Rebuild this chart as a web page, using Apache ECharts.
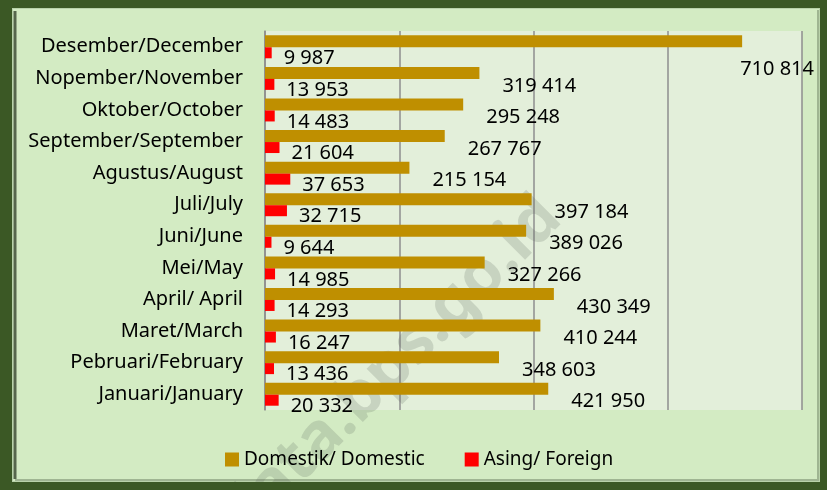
<!DOCTYPE html>
<html>
<head>
<meta charset="utf-8">
<script src="https://cdn.jsdelivr.net/npm/echarts@6/dist/echarts.min.js"></script>
<style>
  html, body { margin: 0; padding: 0; }
  #main { width: 827px; height: 490px; }
</style>
</head>
<body>
<div id="main"></div>
<script>
// months, top to bottom as in the picture
const months = [
  'Desember/December', 'Nopember/November', 'Oktober/October', 'September/September',
  'Agustus/August', 'Juli/July', 'Juni/June', 'Mei/May', 'April/ April',
  'Maret/March', 'Pebruari/February', 'Januari/January'
];
const domestic = [710814, 319414, 295248, 267767, 215154, 397184, 389026, 327266, 430349, 410244, 348603, 421950];
const foreign = [9987, 13953, 14483, 21604, 37653, 32715, 9644, 14985, 14293, 16247, 13436, 20332];
const seriesNames = ['Domestik/ Domestic', 'Asing/ Foreign'];

const FONT = 'Noto Sans';
const DARK = '#3b5825';

function fmt(v) {
  return String(v).replace(/\B(?=(\d{3})+(?!\d))/g, ' ');
}

const chart = echarts.init(document.getElementById('main'));
const option = {
  backgroundColor: '#d3ebc3',
  animation: false,
  textStyle: { fontFamily: FONT },
  graphic: [
    // inner panel edges
    {
      type: 'rect', z: -10,
      shape: { x: 12, y: 8, width: 808, height: 474 },
      style: { fill: '#d3ebc3', stroke: '#b9d2aa', lineWidth: 2 }
    },
    {
      type: 'line', z: -9,
      shape: { x1: 15, y1: 11, x2: 15, y2: 479 },
      style: { stroke: '#56664c', lineWidth: 3 }
    },
    {
      type: 'line', z: -9,
      shape: { x1: 15, y1: 480, x2: 819, y2: 480 },
      style: { stroke: '#9fb592', lineWidth: 2 }
    },
    {
      type: 'line', z: -9,
      shape: { x1: 818, y1: 10, x2: 818, y2: 481 },
      style: { stroke: '#9fb592', lineWidth: 2 }
    },
    // watermark
    {
      type: 'text', z: 1,
      x: 551, y: 208,
      rotation: 45 * Math.PI / 180,
      silent: true,
      style: {
        text: 'data.bps.go.id',
        font: 'bold 64px "' + FONT + '"',
        fill: 'rgba(90, 100, 90, 0.2)',
        textAlign: 'right',
        textVerticalAlign: 'middle'
      }
    },
    // dark outer frame, drawn on top
    { type: 'rect', z: 200, silent: true, shape: { x: 0, y: 0, width: 827, height: 8 }, style: { fill: DARK } },
    { type: 'rect', z: 200, silent: true, shape: { x: 0, y: 482, width: 827, height: 8 }, style: { fill: DARK } },
    { type: 'rect', z: 200, silent: true, shape: { x: 0, y: 0, width: 12, height: 490 }, style: { fill: DARK } },
    { type: 'rect', z: 200, silent: true, shape: { x: 820, y: 0, width: 7, height: 490 }, style: { fill: DARK } }
  ],
  legend: {
    left: 220,
    top: 445,
    icon: 'rect',
    itemWidth: 14,
    itemHeight: 14,
    itemGap: 40,
    data: seriesNames,
    textStyle: { fontSize: 19, color: '#000', fontFamily: FONT }
  },
  grid: {
    left: 265,
    right: 25,
    top: 31,
    bottom: 80,
    show: true,
    backgroundColor: '#e3efda',
    borderWidth: 0,
    containLabel: false
  },
  xAxis: {
    type: 'value',
    min: 0,
    max: 800000,
    interval: 200000,
    axisLabel: { show: false },
    axisTick: { show: false },
    axisLine: { show: false },
    splitLine: { show: true, lineStyle: { color: '#8e8e8e', width: 1.5 } }
  },
  yAxis: {
    type: 'category',
    inverse: true,
    data: months,
    axisTick: { show: false },
    axisLine: { show: true, lineStyle: { color: '#8e8e8e', width: 1.5 } },
    axisLabel: { fontSize: 20, color: '#000', margin: 22, fontFamily: FONT }
  },
  series: [
    {
      name: seriesNames[0],
      type: 'bar',
      barWidth: 12,
      barGap: '0%',
      itemStyle: { color: '#bf8f00' },
      label: {
        show: true,
        position: 'right',
        fontSize: 20,
        color: '#000',
        fontFamily: FONT,
        formatter: p => fmt(p.value)
      },
      // push labels right and down; keep the widest one inside the frame
      labelLayout: function (params) {
        const r = params.labelRect;
        let x = r.x + 18;
        let y = r.y + r.height / 2 + 13;
        if (x + r.width > 814) {
          x = 814 - r.width;
          y += 15;
        }
        return { x: x, y: y, align: 'left', verticalAlign: 'middle' };
      },
      data: domestic
    },
    {
      name: seriesNames[1],
      type: 'bar',
      barWidth: 11,
      barGap: '0%',
      itemStyle: { color: '#ff0000' },
      label: {
        show: true,
        position: 'right',
        offset: [7, 6],
        fontSize: 20,
        color: '#000',
        fontFamily: FONT,
        formatter: p => fmt(p.value)
      },
      data: foreign
    }
  ]
};
chart.setOption(option);
</script>
</body>
</html>
